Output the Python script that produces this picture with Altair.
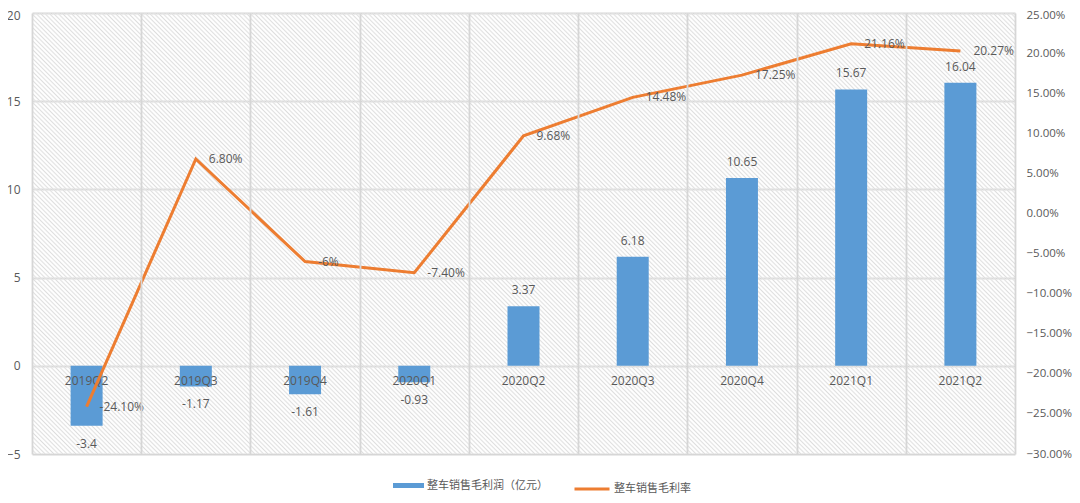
import altair as alt
import pandas as pd
import math

quarters = ["2019Q2", "2019Q3", "2019Q4", "2020Q1", "2020Q2", "2020Q3", "2020Q4", "2021Q1", "2021Q2"]
profit = [-3.4, -1.17, -1.61, -0.93, 3.37, 6.18, 10.65, 15.67, 16.04]
profit_labels = ["-3.4", "-1.17", "-1.61", "-0.93", "3.37", "6.18", "10.65", "15.67", "16.04"]
margin = [-24.10, 6.80, -6.0, -7.40, 9.68, 14.48, 17.25, 21.16, 20.27]
margin_labels = ["-24.10%", "6.80%", "-6%", "-7.40%", "9.68%", "14.48%", "17.25%", "21.16%", "20.27%"]
left_ticks = [-5, 0, 5, 10, 15, 20]
right_ticks = [-30, -25, -20, -15, -10, -5, 0, 5, 10, 15, 20, 25]
series_bar = "整车销售毛利润（亿元）"
series_line = "整车销售毛利率"

W, H = 983, 441
BAR = "#5B9BD5"
ORANGE = "#ED7D31"
TXT = "#595959"
GRID = "#d6d6d6"
NUMFONT = "Open Sans"
CJK = "Noto Sans CJK SC"

df = pd.DataFrame({
    "q": quarters,
    "profit": profit,
    "plab": profit_labels,
    "margin": margin,
    "mlab": margin_labels,
})
df["s1"] = series_bar
df["s2"] = series_line

# diagonal hatch background as a soft striped gradient per band
bw = W / len(quarters)
r = H / bw
s = (1 + r) / (1 + r * r)
perp = (bw + H) / math.sqrt(2)
spacing = 3.1
N = int(perp / spacing)
STRIPE = "#dddddd"
CLEAR = "rgba(255,255,255,0)"
stops = []
for k in range(N):
    stops += [
        {"offset": k / N, "color": STRIPE},
        {"offset": (k + 0.5) / N, "color": CLEAR},
    ]
stops.append({"offset": 1, "color": STRIPE})
gradient = {"gradient": "linear", "x1": 0, "y1": 1, "x2": s, "y2": 1 - s * r, "stops": stops}

X = alt.X(
    "q:N", sort=quarters,
    scale=alt.Scale(paddingInner=0, paddingOuter=0),
    axis=alt.Axis(title=None, labels=False, ticks=False, domain=False, grid=True,
                  tickBand="extent", gridColor=GRID, gridWidth=1.8),
)
yL_scale = alt.Scale(domain=[-5, 20], nice=False, zero=False)
YL = alt.Y(
    "profit:Q", scale=yL_scale,
    axis=alt.Axis(title=None, values=left_ticks, grid=True, gridColor=GRID, gridWidth=1.8,
                  orient="left", labelPadding=12,
                  labelOffset={"condition": {"test": "datum.value == 20", "value": 2}, "value": 0}),
)

base = alt.Chart(df)

hatch = base.mark_rect(fill=gradient, strokeWidth=0).encode(
    x=X, y=alt.datum(-5, scale=yL_scale), y2=alt.datum(20)
)

bars = base.mark_bar(size=32).encode(
    x=X, y=YL,
    color=alt.Color("s1:N", scale=alt.Scale(domain=[series_bar], range=[BAR]),
                    legend=alt.Legend(title=None, orient="none", legendX=361, legendY=457,
                                      symbolType="M-1,-0.16L1,-0.16L1,0.16L-1,0.16Z",
                                      symbolSize=961, symbolStrokeWidth=0,
                                      labelFont=CJK, labelFontSize=11, labelColor=TXT,
                                      padding=0, labelOffset=3)),
)

lab_pos = base.transform_filter("datum.profit >= 0").mark_text(
    font=NUMFONT, fontSize=12, color=TXT, baseline="middle", dy=-16
).encode(x=X, y=YL, text="plab:N")

lab_neg = base.transform_filter("datum.profit < 0").mark_text(
    font=NUMFONT, fontSize=12, color=TXT, baseline="middle", dy=18
).encode(x=X, y=YL, text="plab:N")

cats = base.mark_text(
    font=NUMFONT, fontSize=12, color=TXT, baseline="middle", dy=15
).encode(x=X, y=alt.datum(0), text="q:N")

left = alt.layer(hatch, bars, lab_pos, lab_neg, cats)

YR = alt.Y(
    "margin:Q", scale=alt.Scale(domain=[-30, 25], nice=False, zero=False),
    axis=alt.Axis(title=None, values=right_ticks, grid=False, orient="right",
                  labelExpr="format(datum.value, '.2f') + '%'", labelPadding=11,
                  labelFontSize=11.5,
                  labelOffset={"condition": {"test": "datum.value == 25", "value": 2}, "value": 0}),
)

line = base.mark_line(strokeWidth=3).encode(
    x=X, y=YR,
    color=alt.Color("s2:N", scale=alt.Scale(domain=[series_line], range=[ORANGE]),
                    legend=alt.Legend(title=None, orient="none", legendX=541, legendY=457,
                                      symbolType="stroke", symbolSize=1225,
                                      symbolStrokeWidth=3,
                                      labelFont=CJK, labelFontSize=11, labelColor=TXT,
                                      padding=0, labelOffset=3)),
)

line_lab = base.mark_text(
    font=NUMFONT, fontSize=12, color=TXT, baseline="middle", align="left", dx=13
).encode(x=X, y=YR, text="mlab:N")

right = alt.layer(line, line_lab)

chart = alt.layer(left, right).resolve_scale(y="independent", color="independent").properties(
    width=W, height=H,
    autosize=alt.AutoSizeParams(type="none"),
    padding={"left": 24, "top": 5, "right": 57, "bottom": 41},
).configure_axis(
    labelFont=NUMFONT, labelFontSize=12, labelColor=TXT, domain=False, ticks=False, tickSize=0
).configure_view(stroke=None)

chart.save("out.html", embed_options={"renderer": "svg", "actions": False})
